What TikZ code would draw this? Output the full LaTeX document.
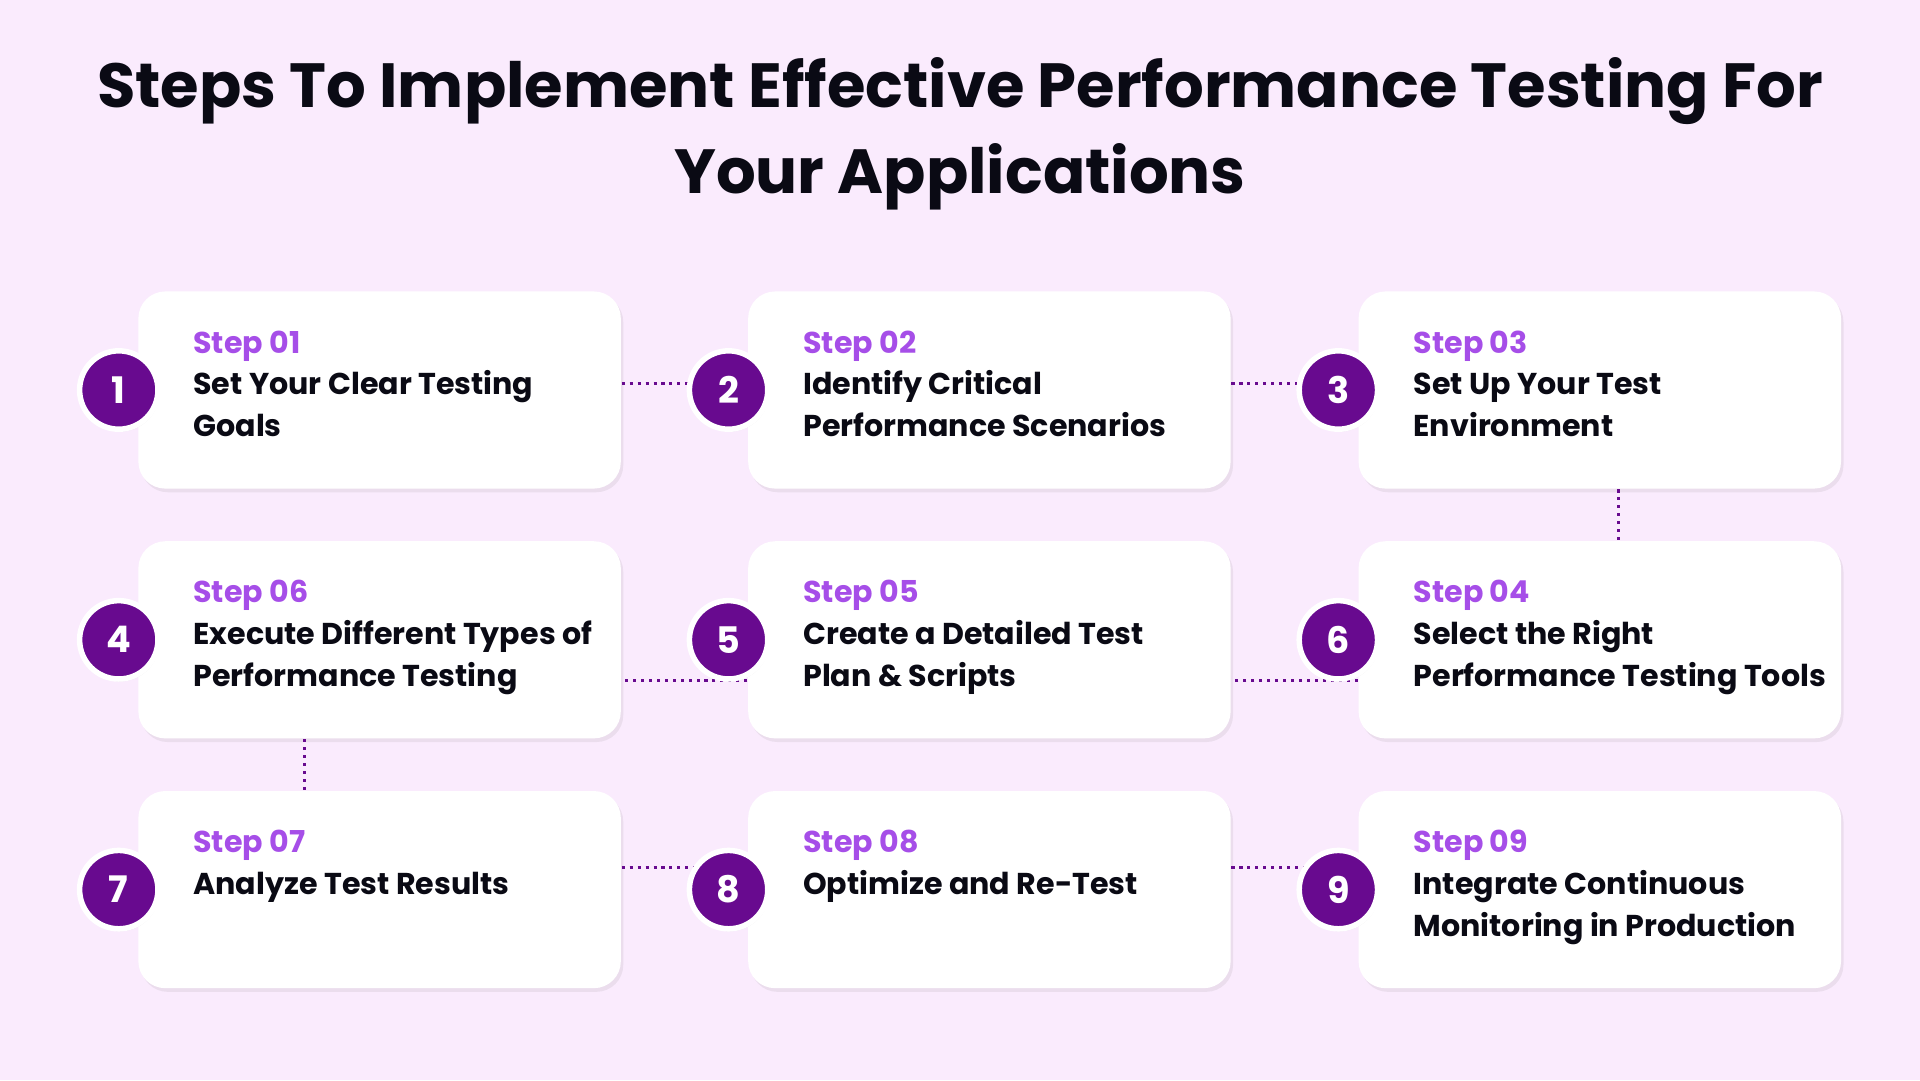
\documentclass[tikz,border=0pt]{standalone}
\usepackage{fontspec}
\setmainfont{Poppins}
\usetikzlibrary{positioning,shadows}
\definecolor{bgpink}{HTML}{FAEBFD}
\definecolor{deeppurple}{HTML}{680A8F}
\definecolor{steppurple}{HTML}{A64EE8}
\definecolor{inkblack}{HTML}{0A0A14}
\tikzset{
  card/.style={rectangle, rounded corners=0.22cm, fill=white, minimum width=3.94cm, minimum height=1.61cm, drop shadow={shadow xshift=0.02cm, shadow yshift=-0.03cm, opacity=0.12}},
  badge/.style={circle, fill=deeppurple, draw=white, line width=0.045cm, minimum size=0.64cm, inner sep=0pt, text=white, font=\fontsize{8.5pt}{9pt}\selectfont\bfseries, drop shadow={shadow xshift=0.01cm, shadow yshift=-0.02cm, opacity=0.15}},
  cardtext/.style={anchor=north west, align=left, inner sep=0pt, text=inkblack, font=\fontsize{7pt}{9.7pt}\selectfont\bfseries},
  link/.style={draw=deeppurple, line width=0.025cm, dash pattern=on 0.025cm off 0.04cm}
}
\newcommand{\steplabel}[1]{{\color{steppurple}#1}}
\begin{document}
\begin{tikzpicture}
  \fill[bgpink] (0,0) rectangle (15.68,8.82);
  \useasboundingbox (0,0) rectangle (15.68,8.82);

  % Titel
  \node[align=center, text=inkblack, font=\fontsize{14.5pt}{20pt}\selectfont\bfseries] (title) at (7.84,7.73)
    {Steps To Implement Effective Performance Testing For\\Your Applications};

  % Karten
  \node[card] (b1) at (3.10,5.635) {};
  \node[card] (b2) at (8.08,5.635) {};
  \node[card] (b3) at (13.065,5.635) {};
  \node[card] (b4) at (3.10,3.595) {};
  \node[card] (b5) at (8.08,3.595) {};
  \node[card] (b6) at (13.065,3.595) {};
  \node[card] (b7) at (3.10,1.555) {};
  \node[card] (b8) at (8.08,1.555) {};
  \node[card] (b9) at (13.065,1.555) {};

  % Verbindungen
  \draw[link] ([yshift=0.05cm]b1.east) -- ([yshift=0.05cm]b2.west);
  \draw[link] ([yshift=0.05cm]b2.east) -- ([yshift=0.05cm]b3.west);
  \draw[link] ([xshift=0.15cm]b3.south) -- ([xshift=0.15cm]b6.north);
  \draw[link] ([yshift=-0.33cm]b6.west) -- ([yshift=-0.33cm]b5.east);
  \draw[link] ([yshift=-0.33cm]b5.west) -- ([yshift=-0.33cm]b4.east);
  \draw[link] ([xshift=-0.61cm]b4.south) -- ([xshift=-0.61cm]b7.north);
  \draw[link] ([yshift=0.18cm]b7.east) -- ([yshift=0.18cm]b8.west);
  \draw[link] ([yshift=0.18cm]b8.east) -- ([yshift=0.18cm]b9.west);

  % Nummern
  \node[badge] (c1) at (0.97,5.635) {1};
  \node[badge] (c2) at (5.95,5.635) {2};
  \node[badge] (c3) at (10.93,5.635) {3};
  \node[badge] (c4) at (0.97,3.595) {4};
  \node[badge] (c5) at (5.95,3.595) {5};
  \node[badge] (c6) at (10.93,3.595) {6};
  \node[badge] (c7) at (0.97,1.555) {7};
  \node[badge] (c8) at (5.95,1.555) {8};
  \node[badge] (c9) at (10.93,1.555) {9};

  % Texte
  \node[cardtext] (t1) at ([xshift=0.45cm, yshift=-0.32cm]b1.north west) {\steplabel{Step 01}\\Set Your Clear Testing\\Goals};
  \node[cardtext] (t2) at ([xshift=0.45cm, yshift=-0.32cm]b2.north west) {\steplabel{Step 02}\\Identify Critical\\Performance Scenarios};
  \node[cardtext] (t3) at ([xshift=0.45cm, yshift=-0.32cm]b3.north west) {\steplabel{Step 03}\\Set Up Your Test\\Environment};
  \node[cardtext] (t4) at ([xshift=0.45cm, yshift=-0.32cm]b4.north west) {\steplabel{Step 06}\\Execute Different Types of\\Performance Testing};
  \node[cardtext] (t5) at ([xshift=0.45cm, yshift=-0.32cm]b5.north west) {\steplabel{Step 05}\\Create a Detailed Test\\Plan \& Scripts};
  \node[cardtext] (t6) at ([xshift=0.45cm, yshift=-0.32cm]b6.north west) {\steplabel{Step 04}\\Select the Right\\Performance Testing Tools};
  \node[cardtext] (t7) at ([xshift=0.45cm, yshift=-0.32cm]b7.north west) {\steplabel{Step 07}\\Analyze Test Results};
  \node[cardtext] (t8) at ([xshift=0.45cm, yshift=-0.32cm]b8.north west) {\steplabel{Step 08}\\Optimize and Re-Test};
  \node[cardtext] (t9) at ([xshift=0.45cm, yshift=-0.32cm]b9.north west) {\steplabel{Step 09}\\Integrate Continuous\\Monitoring in Production};
\end{tikzpicture}
\end{document}
